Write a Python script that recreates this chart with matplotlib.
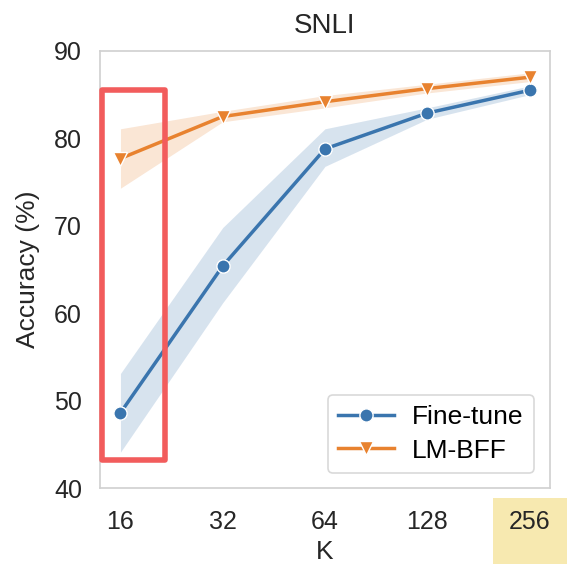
import matplotlib
matplotlib.use("Agg")
import matplotlib.pyplot as plt
from matplotlib.patches import Rectangle

# ─── DATA ──────────────────────────────────────────────────────────────────────

k_labels = ["16", "32", "64", "128", "256"]

finetune_mean = [48.6, 65.4, 78.8, 82.9, 85.5]
finetune_low = [44.1, 61.2, 76.8, 82.2, 85.0]
finetune_high = [53.1, 69.8, 81.1, 83.5, 86.0]

lmbff_mean = [77.7, 82.5, 84.2, 85.7, 87.0]
lmbff_low = [74.3, 81.9, 83.5, 85.2, 86.5]
lmbff_high = [81.1, 83.1, 84.9, 86.2, 87.5]

# ─── STYLE ─────────────────────────────────────────────────────────────────────

plt.rcParams['font.family'] = ['Liberation Sans', 'DejaVu Sans']
blue = '#3a75ae'
orange = '#e8822f'
text_col = '#262626'

fig = plt.figure(figsize=(5.67, 5.64), dpi=100)
ax = fig.add_axes([100 / 567, 1 - 488 / 564, 450 / 567, 437 / 564])

x = list(range(len(k_labels)))

ax.fill_between(x, finetune_low, finetune_high, color=blue, alpha=0.2, linewidth=0)
ax.fill_between(x, lmbff_low, lmbff_high, color=orange, alpha=0.2, linewidth=0)

ax.plot(x, finetune_mean, color=blue, lw=2.5, marker='o', markersize=9.5,
        markeredgecolor='white', markeredgewidth=1, label='Fine-tune')
ax.plot(x, lmbff_mean, color=orange, lw=2.5, marker='v', markersize=9.5,
        markeredgecolor='white', markeredgewidth=1, label='LM-BFF')

ax.set_xlim(-0.2, 4.2)
ax.set_ylim(40, 90)
ax.set_xticks(x)
ax.set_xticklabels(k_labels)
ax.set_yticks([40, 50, 60, 70, 80, 90])
ax.tick_params(axis='x', length=0, labelsize=18, pad=16, colors=text_col)
ax.tick_params(axis='y', length=0, labelsize=18, pad=13, colors=text_col)

for s in ax.spines.values():
    s.set_color('#d0d0d0')
    s.set_linewidth(1.2)

ax.set_xlabel('K', fontsize=19, color=text_col, labelpad=4)
ax.set_ylabel('Accuracy (%)', fontsize=19, color=text_col, labelpad=10)
ax.set_title('SNLI', fontsize=20, color=text_col, pad=13)

leg = ax.legend(loc='lower right', fontsize=19, frameon=True, fancybox=True,
                handlelength=2.1, handletextpad=0.7, borderpad=0.4,
                labelspacing=0.35, bbox_to_anchor=(0.965, 0.034),
                borderaxespad=0)
leg.get_frame().set_edgecolor('#d0d0d0')
leg.get_frame().set_linewidth(1.2)

# red highlight box around K=16
ax.add_patch(Rectangle((-0.18, 43.2), 0.62, 42.3, fill=False, edgecolor='#f25c5c',
                       linewidth=4, clip_on=False, zorder=5, joinstyle='round'))

# yellow highlight behind the 256 label
fig.patches.append(Rectangle((493 / 567, 0), 74 / 567, 66 / 564, transform=fig.transFigure,
                             facecolor='#f7e9b0', edgecolor='none', zorder=-1))

fig.savefig('out.png', dpi=100)
